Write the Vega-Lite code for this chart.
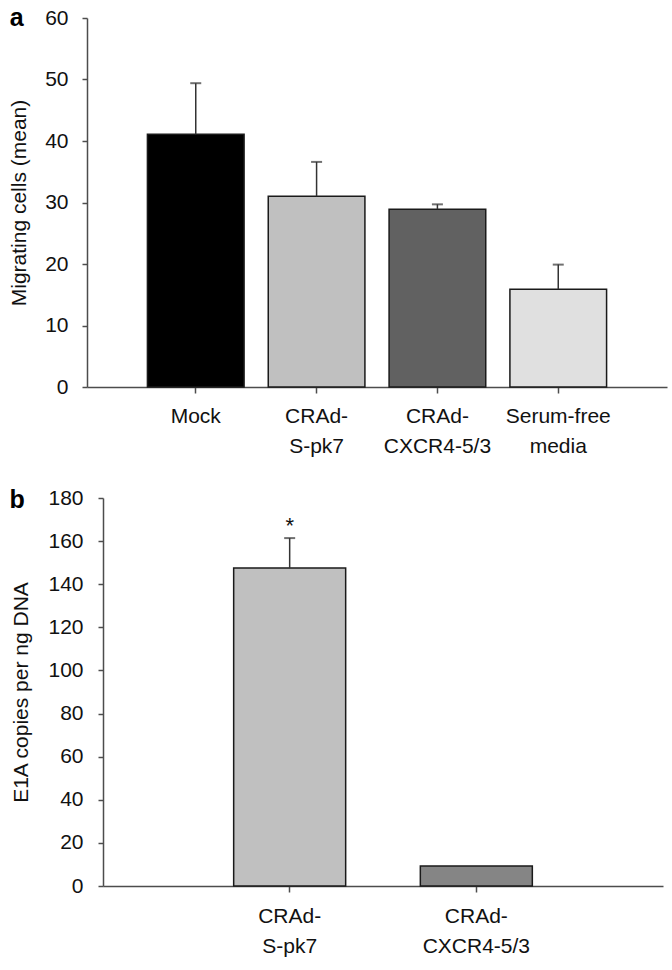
{
  "$schema": "https://vega.github.io/schema/vega-lite/v6.json",
  "background": "white",
  "padding": {"left": 8, "top": 6, "right": 5, "bottom": 5},
  "config": {
    "font": "Liberation Sans",
    "view": {"stroke": null},
    "axis": {
      "grid": false,
      "domainColor": "#4d4d4d",
      "domainWidth": 1.5,
      "tickColor": "#4d4d4d",
      "tickWidth": 1.5,
      "labelFont": "Liberation Sans",
      "labelFontSize": 21,
      "labelColor": "#111111",
      "titleFont": "Liberation Sans",
      "titleFontSize": 21,
      "titleFontWeight": "normal",
      "titleColor": "#111111"
    }
  },
  "spacing": 31,
  "bounds": "full",
  "align": "none",
  "resolve": {"scale": {"color": "independent", "x": "independent", "y": "independent"}},
  "vconcat": [
    {
      "title": {"text": "a", "orient": "left", "angle": 0, "anchor": "end", "frame": "group", "align": "right", "baseline": "middle", "fontSize": 25, "fontWeight": "bold", "offset": -29, "color": "#000000", "font": "Liberation Sans"},
      "width": 580,
      "height": 369,
      "data": {
        "values": [
          {"group": "Mock", "mean": 41.1, "upper": 49.4},
          {"group": "CRAd-S-pk7", "mean": 31.0, "upper": 36.6},
          {"group": "CRAd-CXCR4-5/3", "mean": 28.9, "upper": 29.7},
          {"group": "Serum-free media", "mean": 15.9, "upper": 19.9}
        ]
      },
      "encoding": {
        "x": {
          "field": "group",
          "type": "nominal",
          "sort": null,
          "scale": {"paddingInner": 0.2, "paddingOuter": 0.5},
          "axis": {
            "title": null,
            "labelAngle": 0,
            "labelFontSize": 21,
            "tickSize": 6,
            "labelPadding": 12,
            "labelBaseline": "top",
            "labelLineHeight": 30,
            "labelOverlap": false,
            "labelExpr": "datum.value == 'CRAd-S-pk7' ? ['CRAd-', 'S-pk7'] : datum.value == 'CRAd-CXCR4-5/3' ? ['CRAd-', 'CXCR4-5/3'] : datum.value == 'Serum-free media' ? ['Serum-free', 'media'] : datum.value"
          }
        }
      },
      "layer": [
        {
          "mark": {"type": "bar", "stroke": "#1a1a1a", "strokeWidth": 1.5},
          "encoding": {
            "y": {
              "field": "mean",
              "type": "quantitative",
              "scale": {"domain": [0, 60], "nice": false},
              "axis": {"title": "Migrating cells (mean)", "values": [0, 10, 20, 30, 40, 50, 60], "labelFontSize": 21, "tickSize": 5, "labelPadding": 14, "titlePadding": 15}
            },
            "color": {
              "field": "group",
              "type": "nominal",
              "scale": {"domain": ["Mock", "CRAd-S-pk7", "CRAd-CXCR4-5/3", "Serum-free media"], "range": ["#000000", "#c0c0c0", "#616161", "#e0e0e0"]},
              "legend": null
            }
          }
        },
        {
          "mark": {"type": "rule", "color": "#333333", "strokeWidth": 1.5},
          "encoding": {
            "y": {"field": "mean", "type": "quantitative"},
            "y2": {"field": "upper"}
          }
        },
        {
          "mark": {"type": "tick", "color": "#333333", "thickness": 2, "size": 11, "orient": "horizontal"},
          "encoding": {
            "y": {"field": "upper", "type": "quantitative"}
          }
        }
      ]
    },
    {
      "title": {"text": "b", "orient": "left", "angle": 0, "anchor": "end", "frame": "group", "align": "right", "baseline": "middle", "fontSize": 25, "fontWeight": "bold", "offset": -29, "dy": 2, "color": "#000000", "font": "Liberation Sans"},
      "width": 576,
      "height": 388,
      "data": {
        "values": [
          {"group": "CRAd-S-pk7", "mean": 147.5, "upper": 161.4, "sig": "*"},
          {"group": "CRAd-CXCR4-5/3", "mean": 9.3, "upper": null, "sig": null}
        ]
      },
      "encoding": {
        "x": {
          "field": "group",
          "type": "nominal",
          "sort": null,
          "scale": {"range": [16, 576], "paddingInner": 0.4, "paddingOuter": 0.7},
          "axis": {
            "title": null,
            "labelAngle": 0,
            "labelFontSize": 21,
            "tickSize": 6,
            "labelPadding": 13,
            "labelBaseline": "top",
            "labelLineHeight": 30,
            "labelOverlap": false,
            "labelExpr": "datum.value == 'CRAd-S-pk7' ? ['CRAd-', 'S-pk7'] : datum.value == 'CRAd-CXCR4-5/3' ? ['CRAd-', 'CXCR4-5/3'] : datum.value"
          }
        }
      },
      "layer": [
        {
          "mark": {"type": "bar", "stroke": "#1a1a1a", "strokeWidth": 1.5},
          "encoding": {
            "y": {
              "field": "mean",
              "type": "quantitative",
              "scale": {"domain": [0, 180], "nice": false},
              "axis": {"title": "E1A copies per ng DNA", "values": [0, 20, 40, 60, 80, 100, 120, 140, 160, 180], "labelFontSize": 21, "offset": -16, "tickSize": 5, "labelPadding": 15, "titlePadding": 16}
            },
            "color": {
              "field": "group",
              "type": "nominal",
              "scale": {"domain": ["CRAd-S-pk7", "CRAd-CXCR4-5/3"], "range": ["#c0c0c0", "#858585"]},
              "legend": null
            }
          }
        },
        {
          "transform": [{"filter": "datum.upper != null"}],
          "mark": {"type": "rule", "color": "#333333", "strokeWidth": 1.5},
          "encoding": {
            "y": {"field": "mean", "type": "quantitative"},
            "y2": {"field": "upper"}
          }
        },
        {
          "transform": [{"filter": "datum.upper != null"}],
          "mark": {"type": "tick", "color": "#333333", "thickness": 2, "size": 11, "orient": "horizontal"},
          "encoding": {
            "y": {"field": "upper", "type": "quantitative"}
          }
        },
        {
          "transform": [{"filter": "datum.sig != null"}],
          "mark": {"type": "text", "fontSize": 22, "baseline": "alphabetic", "dy": -5, "color": "#111111", "font": "Liberation Sans"},
          "encoding": {
            "y": {"field": "upper", "type": "quantitative"},
            "text": {"field": "sig"}
          }
        }
      ]
    }
  ]
}
